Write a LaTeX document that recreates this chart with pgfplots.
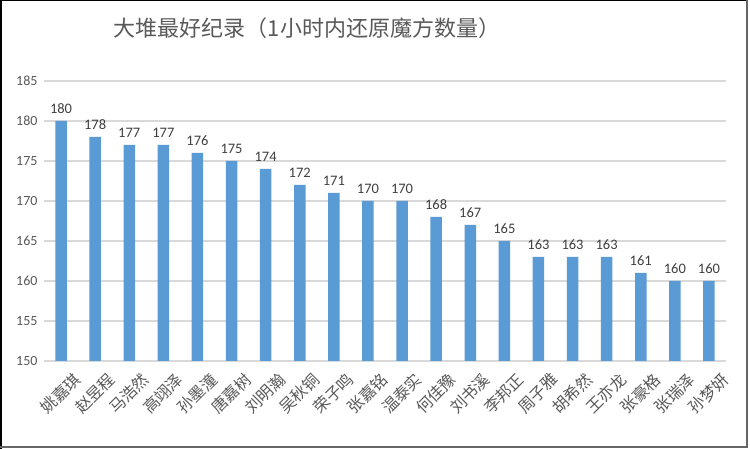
\documentclass[border=0pt]{standalone}
\usepackage{fontspec}
\setmainfont{Carlito}
\newfontfamily\cjk{Noto Sans CJK SC}
\usepackage{pgfplots}
\pgfplotsset{compat=1.18}
\definecolor{barblue}{HTML}{5B9BD5}
\definecolor{gridgray}{HTML}{D9D9D9}
\definecolor{ticktext}{HTML}{595959}
\definecolor{labeltext}{HTML}{404040}
\begin{document}
\begin{tikzpicture}[x=1pt,y=1pt]
\path[use as bounding box] (0,0) rectangle (750,449);
\fill[white] (0,0) rectangle (750,449);
\draw[black,line width=1.5pt] (0.75,0) -- (0.75,448.25) -- (746,448.25);
\draw[black!60,line width=2pt] (747,449) -- (747,2) -- (0,2);
\node[font=\cjk\fontsize{22}{26}\selectfont, text=ticktext] at (307,421) {大堆最好纪录（1小时内还原魔方数量）};
\begin{axis}[
  at={(44pt,88pt)}, anchor=south west,
  scale only axis, width=682pt, height=280pt,
  ymin=150, ymax=185, ytick={150,155,...,185},
  xmin=-0.5, xmax=19.5,
  xtick={0,...,19},
  xticklabels={姚嘉琪,赵昱程,马浩然,高翊泽,孙墨潼,唐嘉树,刘明瀚,吴秋铜,荣子鸣,张嘉铭,温泰实,何佳豫,刘书溪,李邦正,周子雅,胡希然,王亦龙,张豪格,张瑞泽,孙梦妍},
  xticklabel style={font=\cjk\fontsize{16}{18}\selectfont, text=ticktext, rotate=45, anchor=north east, inner sep=1pt, xshift=5pt, yshift=-11pt},
  yticklabel style={font=\fontsize{14}{16}\selectfont, text=ticktext, xshift=-3pt},
  /pgf/number format/assume math mode=true,
  axis line style={draw=none},
  major tick style={draw=none},
  ymajorgrids, grid style={gridgray, line width=1.2pt},
  ybar, bar width=11.5pt,
  nodes near coords,
  nodes near coords style={font=\fontsize{14.5}{16}\selectfont, text=labeltext, yshift=4pt},
  clip=false,
]
\addplot[fill=barblue, draw=none] coordinates {
(0,180) (1,178) (2,177) (3,177) (4,176) (5,175) (6,174) (7,172) (8,171) (9,170)
(10,170) (11,168) (12,167) (13,165) (14,163) (15,163) (16,163) (17,161) (18,160) (19,160)};
\end{axis}
\end{tikzpicture}
\end{document}
